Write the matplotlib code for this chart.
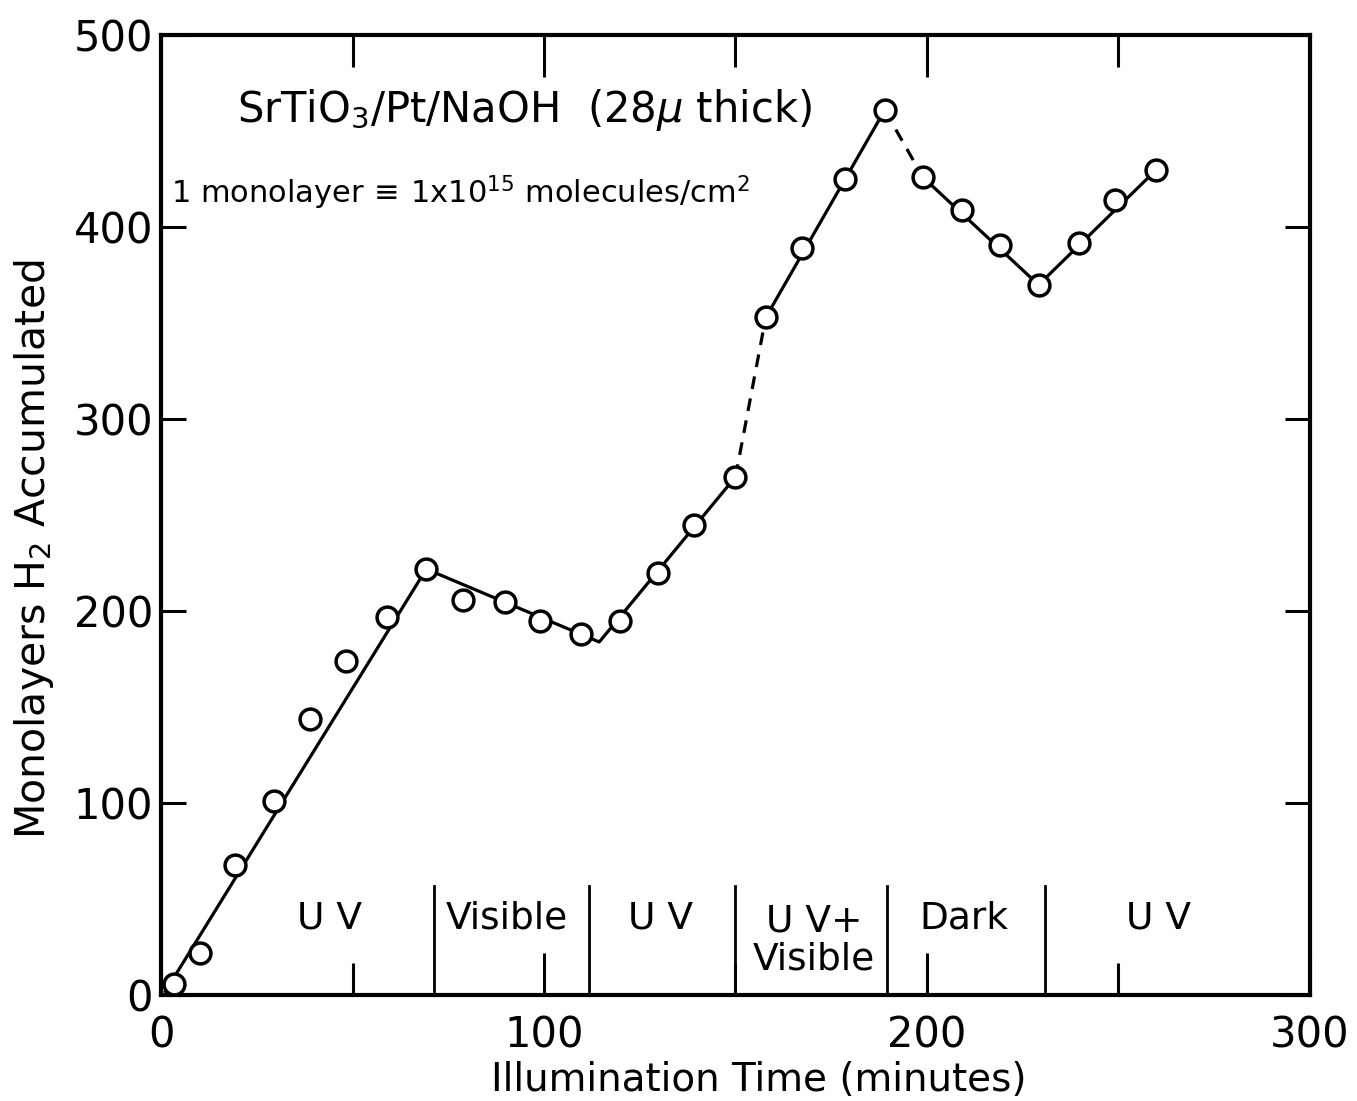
import matplotlib
matplotlib.use("Agg")
import matplotlib.pyplot as plt

time = [3.4, 10.1, 19.2, 29.5, 38.8, 48.2, 58.9, 69.2, 78.9, 89.8, 99.0, 109.6, 119.8,
        129.8, 139.2, 150.0, 157.9, 167.4, 178.7, 189.0, 199.0, 209.1, 219.1, 229.2,
        239.7, 249.3, 260.0]
h2 = [6, 22, 68, 101, 144, 174, 197, 222, 206, 205, 195, 188, 195,
      220, 245, 270, 353, 389, 425, 461, 426, 409, 391, 370,
      392, 414, 430]

# hand-drawn guide lines (solid and dashed pieces)
fit1_x = [1, 69.2, 114.4, 150.0]
fit1_y = [2, 222, 184, 270]
dash1_x = [150.0, 157.9]
dash1_y = [270, 353]
fit2_x = [157.9, 189.0]
fit2_y = [353, 461]
dash2_x = [189.0, 199.0]
dash2_y = [461, 426]
fit3_x = [199.0, 229.2, 260.0]
fit3_y = [426, 370, 430]

# illumination periods
sep_x = [71.3, 111.7, 149.9, 189.6, 230.8]
period_x = [43.9, 90.3, 130.5, 170.5, 209.7, 260.6]
period_lbl = ["U V", "Visible", "U V", "U V+\nVisible", "Dark", "U V"]

fig = plt.figure(figsize=(13.57, 11.01), dpi=100)
ax = fig.add_axes([0.119, 0.096, 0.846, 0.872])

lw = 2.3
ax.plot(fit1_x, fit1_y, "-", color="black", lw=lw, zorder=2)
ax.plot(dash1_x, dash1_y, "--", color="black", lw=lw, dashes=(4, 3), zorder=2)
ax.plot(fit2_x, fit2_y, "-", color="black", lw=lw, zorder=2)
ax.plot(dash2_x, dash2_y, "--", color="black", lw=lw, dashes=(4, 3), zorder=2)
ax.plot(fit3_x, fit3_y, "-", color="black", lw=lw, zorder=2)
ax.plot(time, h2, "o", ms=15, mfc="white", mec="black", mew=2.5, ls="none", zorder=3)

for s in sep_x:
    ax.plot([s, s], [0, 57], color="black", lw=2.0, zorder=1)
for x, t in zip(period_x, period_lbl):
    y = 40 if "\n" not in t else 28.5
    ax.text(x, y, t, ha="center", va="center", fontsize=27, linespacing=1.1)

ax.text(19.8, 461, r"SrTiO$_3$/Pt/NaOH  (28$\mu$ thick)", fontsize=30, va="center")
ax.text(2.6, 418, r"1 monolayer$\,\equiv\,$1x10$^{15}$ molecules/cm$^2$", fontsize=22, va="center")

ax.set_xlim(0, 300)
ax.set_ylim(0, 500)
ax.set_xticks([0, 100, 200, 300])
ax.set_xticks([50, 150, 250], minor=True)
ax.set_yticks([0, 100, 200, 300, 400, 500])
ax.tick_params(axis="both", direction="in", top=True, right=True, labelsize=30, width=2.2, colors="black")
ax.tick_params(axis="x", which="major", length=30, pad=14)
ax.tick_params(axis="x", which="minor", length=23, width=2.2, top=True, direction="in")
ax.tick_params(axis="y", which="major", length=18, pad=6)
for sp in ax.spines.values():
    sp.set_linewidth(3)

ax.set_xlabel("Illumination Time (minutes)", fontsize=28)
ax.xaxis.set_label_coords(0.52, -0.068)
ax.set_ylabel(r"Monolayers H$_2$ Accumulated", fontsize=29.5)
ax.yaxis.set_label_coords(-0.092, 0.465)

fig.savefig("out.png", dpi=100)
